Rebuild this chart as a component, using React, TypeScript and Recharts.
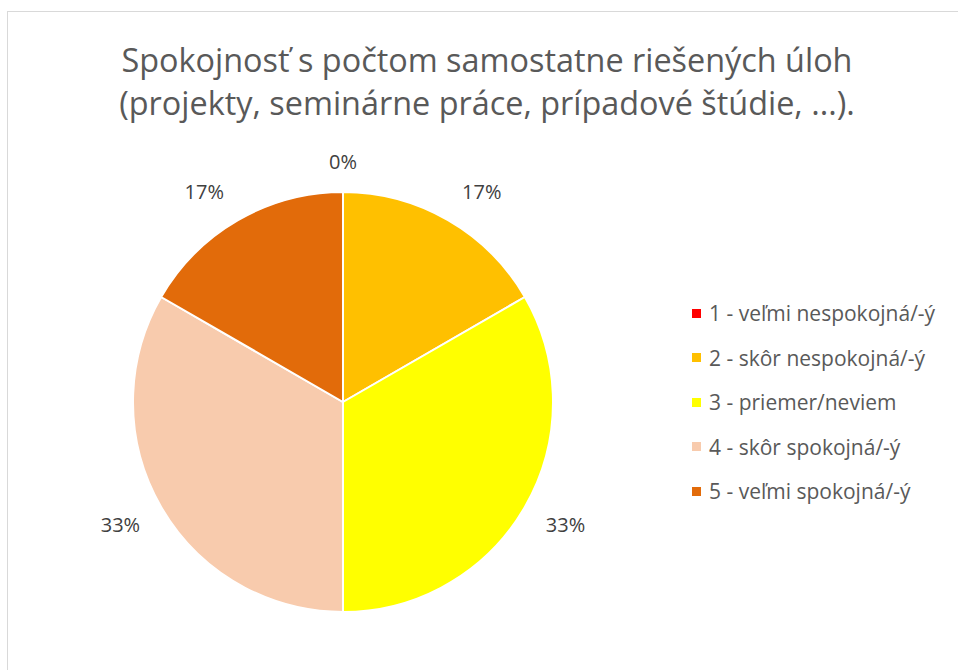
import React from 'react';
import { PieChart, Pie, Cell, Legend } from 'recharts';

const CATEGORIES = [
  '1 - veľmi nespokojná/-ý',
  '2 - skôr nespokojná/-ý',
  '3 - priemer/neviem',
  '4 - skôr spokojná/-ý',
  '5 - veľmi spokojná/-ý',
];
const COUNTS = [0, 1, 2, 2, 1];
const PERCENT_LABELS = ['0%', '17%', '33%', '33%', '17%'];
const COLORS = ['#FF0000', '#FFC000', '#FFFF00', '#F8CBAD', '#E26B0A'];

const FONT = '"Open Sans", Lato, sans-serif';
const RADIAN = Math.PI / 180;

const data = CATEGORIES.map((name, i) => ({ name, value: COUNTS[i], label: PERCENT_LABELS[i] }));

function renderLabel(props: any) {
  const { cx, cy, midAngle, outerRadius, index } = props;
  const text = PERCENT_LABELS[index];
  const cos = Math.cos(-midAngle * RADIAN);
  const sin = Math.sin(-midAngle * RADIAN);
  const p = outerRadius + 19;
  const w = text.length * 13.5;
  const h = 20;
  const sx = Math.abs(cos) > 0.1 ? Math.sign(cos) * (w / 2 + 4) : 0;
  const sy = Math.abs(sin) > 0.1 ? Math.sign(sin) * h / 2 - 2 : 0;
  return (
    <text
      key={`lbl-${index}`}
      x={cx + cos * p + sx}
      y={cy + sin * p + sy}
      textAnchor="middle"
      dominantBaseline="central"
      fill="#404040"
      fontSize={20}
      fontFamily={FONT}
    >
      {text}
    </text>
  );
}

function LegendContent({ payload }: any) {
  return (
    <div style={{ fontFamily: FONT }}>
      {(payload || []).map((entry: any, i: number) => (
        <div key={i} style={{ display: 'flex', alignItems: 'center', height: 44.5 }}>
          <span style={{ width: 9, height: 9, background: entry.color, marginRight: 8, display: 'inline-block' }} />
          <span style={{ fontSize: 21, color: '#595959' }}>{entry.value}</span>
        </div>
      ))}
    </div>
  );
}

export default function App() {
  return (
    <div
      style={{
        position: 'absolute',
        left: 7,
        top: 11,
        width: 960,
        height: 670,
        border: '1px solid #d9d9d9',
        background: '#fff',
      }}
    >
      <div
        style={{
          position: 'absolute',
          left: 0,
          top: 26,
          width: 958,
          textAlign: 'center',
          fontFamily: FONT,
          fontSize: 32.4,
          lineHeight: '43px',
          color: '#595959',
        }}
      >
        Spokojnosť s počtom samostatne riešených úloh
        <br />
        (projekty, seminárne práce, prípadové štúdie, ...).
      </div>
      <PieChart width={958} height={668}>
        <Pie
          data={data}
          dataKey="value"
          nameKey="name"
          cx={330}
          cy={385}
          outerRadius={210}
          startAngle={90}
          endAngle={-270}
          stroke="#ffffff"
          strokeWidth={2}
          label={renderLabel}
          labelLine={false}
          isAnimationActive={false}
        >
          {data.map((d, i) => (
            <Cell key={d.name} fill={COLORS[i]} />
          ))}
        </Pie>
        <Legend
          layout="vertical"
          content={<LegendContent />}
          wrapperStyle={{ position: 'absolute', left: 684, top: 279, width: 275 }}
        />
      </PieChart>
    </div>
  );
}
